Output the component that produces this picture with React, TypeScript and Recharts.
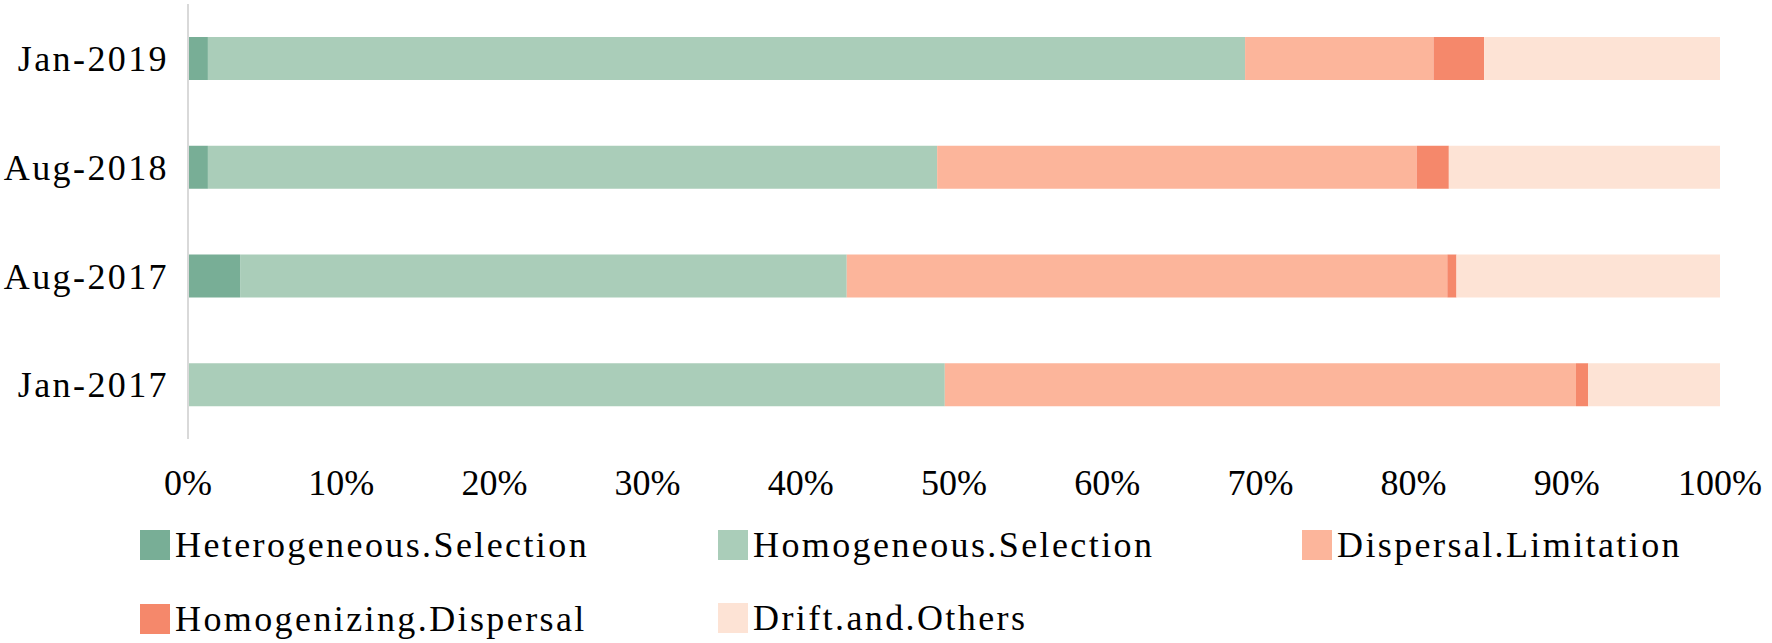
import React from "react";
import { BarChart, Bar, XAxis, YAxis, Legend } from "recharts";

const categories = ["Jan-2019", "Aug-2018", "Aug-2017", "Jan-2017"];
const heterogeneousSelection = [1.3, 1.3, 3.4, 0];
const homogeneousSelection = [67.7, 47.6, 39.6, 49.4];
const dispersalLimitation = [12.3, 31.3, 39.2, 41.2];
const homogenizingDispersal = [3.3, 2.1, 0.6, 0.8];
const driftAndOthers = [15.4, 17.7, 17.2, 8.6];
const xTicks = [0, 10, 20, 30, 40, 50, 60, 70, 80, 90, 100];

const seriesDefs = [
  { key: "Heterogeneous.Selection", values: heterogeneousSelection, color: "#78ae96" },
  { key: "Homogeneous.Selection", values: homogeneousSelection, color: "#aacdb9" },
  { key: "Dispersal.Limitation", values: dispersalLimitation, color: "#fcb59b" },
  { key: "Homogenizing.Dispersal", values: homogenizingDispersal, color: "#f5886b" },
  { key: "Drift.and.Others", values: driftAndOthers, color: "#fde3d5" },
];
const seriesOrder = seriesDefs.map((s) => s.key);

const data = categories.map((c, i) => {
  const row: Record<string, any> = { name: c };
  seriesDefs.forEach((s) => {
    row[s.key] = s.values[i];
  });
  return row;
});

const FONT = '"Liberation Serif", "Times New Roman", serif';

// legend item placement (left, top) within legend box
const legendSlots = [
  [140, 17],
  [718, 17],
  [1302, 17],
  [140, 91],
  [718, 90],
];

const renderLegend = (props: any) => {
  const payload = [...(props.payload || [])].sort(
    (a: any, b: any) => seriesOrder.indexOf(a.value) - seriesOrder.indexOf(b.value)
  );
  return (
    <div style={{ position: "relative", width: 1772, height: 130 }}>
      {payload.map((p: any, i: number) => {
        const slot = legendSlots[i] || [0, 0];
        return (
          <div
            key={p.value}
            style={{
              position: "absolute",
              left: slot[0],
              top: slot[1],
              display: "flex",
              alignItems: "center",
              height: 30,
              whiteSpace: "nowrap",
            }}
          >
            <div style={{ width: 30, height: 30, background: p.color, marginRight: 5 }} />
            <span
              style={{
                fontFamily: FONT,
                fontSize: 36,
                lineHeight: "30px",
                letterSpacing: "2.4px",
                color: "#000",
              }}
            >
              {p.value}
            </span>
          </div>
        );
      })}
    </div>
  );
};

export default function App() {
  return (
    <div style={{ position: "absolute", left: 0, top: 0, width: 1772, height: 643, background: "#fff" }}>
      <BarChart
        width={1772}
        height={643}
        data={data}
        layout="vertical"
        margin={{ top: 4, right: 52, bottom: 0, left: 0 }}
        barSize={43}
      >
        <XAxis
          type="number"
          domain={[0, 100]}
          ticks={xTicks}
          tickFormatter={(v: number) => `${v}%`}
          axisLine={false}
          tickLine={false}
          tickSize={6}
          tickMargin={24}
          height={74}
          interval={0}
          tick={{ fontFamily: FONT, fontSize: 36, fill: "#000" }}
        />
        <YAxis
          type="category"
          dataKey="name"
          width={188}
          axisLine={{ stroke: "#d9d9d9", strokeWidth: 2 }}
          tickLine={false}
          tickSize={0}
          tickMargin={19}
          interval={0}
          tick={{ fontFamily: FONT, fontSize: 36, fill: "#000", letterSpacing: "2.4px" }}
        />
        <Legend
          verticalAlign="bottom"
          content={renderLegend}
          wrapperStyle={{ left: 0, bottom: 0, width: 1772, height: 130 }}
        />
        {seriesDefs.map((s) => (
          <Bar key={s.key} dataKey={s.key} stackId="a" fill={s.color} isAnimationActive={false} />
        ))}
      </BarChart>
    </div>
  );
}
